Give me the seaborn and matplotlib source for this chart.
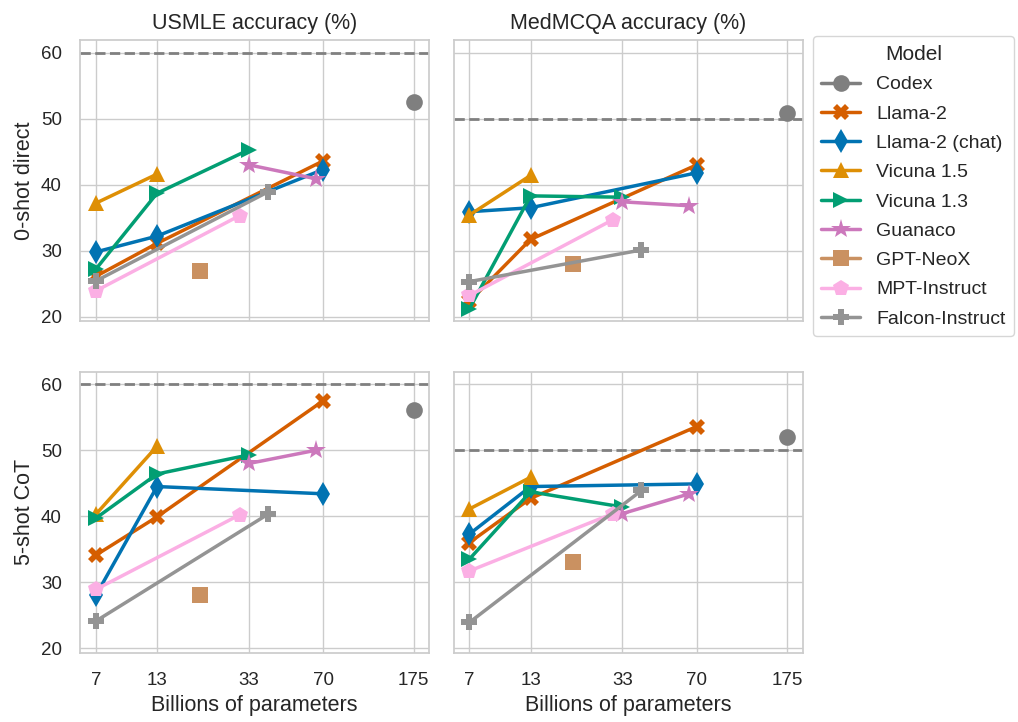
import matplotlib
matplotlib.use("Agg")
import matplotlib.pyplot as plt
from matplotlib.lines import Line2D
from matplotlib.ticker import NullLocator
import seaborn as sns
import pandas as pd

models = ["Codex", "Llama-2", "Llama-2 (chat)", "Vicuna 1.5", "Vicuna 1.3",
          "Guanaco", "GPT-NeoX", "MPT-Instruct", "Falcon-Instruct"]

# billions of parameters for each model size evaluated
sizes = {
    "Codex": [175],
    "Llama-2": [7, 13, 70],
    "Llama-2 (chat)": [7, 13, 70],
    "Vicuna 1.5": [7, 13],
    "Vicuna 1.3": [7, 13, 33],
    "Guanaco": [33, 65],
    "GPT-NeoX": [20],
    "MPT-Instruct": [7, 30],
    "Falcon-Instruct": [7, 40],
}

usmle_0shot = {
    "Codex": [52.5],
    "Llama-2": [26.1, 31.1, 43.6],
    "Llama-2 (chat)": [29.8, 32.2, 42.3],
    "Vicuna 1.5": [37.2, 41.6],
    "Vicuna 1.3": [27.2, 38.7, 45.3],
    "Guanaco": [43.0, 40.9],
    "GPT-NeoX": [26.9],
    "MPT-Instruct": [23.9, 35.3],
    "Falcon-Instruct": [25.4, 38.9],
}
medmcqa_0shot = {
    "Codex": [50.9],
    "Llama-2": [22.3, 31.7, 43.0],
    "Llama-2 (chat)": [35.9, 36.5, 41.8],
    "Vicuna 1.5": [35.4, 41.4],
    "Vicuna 1.3": [21.2, 38.3, 38.1],
    "Guanaco": [37.4, 36.8],
    "GPT-NeoX": [27.9],
    "MPT-Instruct": [23.2, 34.7],
    "Falcon-Instruct": [25.3, 30.1],
}
usmle_cot = {
    "Codex": [56.1],
    "Llama-2": [34.1, 39.9, 57.5],
    "Llama-2 (chat)": [28.0, 44.5, 43.4],
    "Vicuna 1.5": [40.3, 50.6],
    "Vicuna 1.3": [39.7, 46.4, 49.3],
    "Guanaco": [48.0, 50.0],
    "GPT-NeoX": [28.0],
    "MPT-Instruct": [28.9, 40.2],
    "Falcon-Instruct": [24.1, 40.3],
}
medmcqa_cot = {
    "Codex": [52.0],
    "Llama-2": [36.0, 42.7, 53.6],
    "Llama-2 (chat)": [37.3, 44.5, 44.9],
    "Vicuna 1.5": [41.1, 45.9],
    "Vicuna 1.3": [33.5, 43.7, 41.4],
    "Guanaco": [40.4, 43.4],
    "GPT-NeoX": [33.0],
    "MPT-Instruct": [31.7, 40.4],
    "Falcon-Instruct": [23.9, 43.9],
}

# passing score reference lines
thresholds = {"USMLE": 60, "MedMCQA": 50}
x_ticks = [7, 13, 33, 70, 175]

colors = ["#7f7f7f", "#d55e00", "#0173b2", "#de8f05", "#029e73",
          "#cc78bc", "#ca9161", "#fbafe4", "#949494"]
marker_list = ["o", "X", "d", "^", ">", "*", "s", "p", "P"]
palette = dict(zip(models, colors))
markers = dict(zip(models, marker_list))

# long table for seaborn
rows = []
panels = [("0-shot direct", "USMLE", usmle_0shot),
          ("0-shot direct", "MedMCQA", medmcqa_0shot),
          ("5-shot CoT", "USMLE", usmle_cot),
          ("5-shot CoT", "MedMCQA", medmcqa_cot)]
for setting, dataset, vals in panels:
    for m in models:
        for s, v in zip(sizes[m], vals[m]):
            rows.append({"setting": setting, "dataset": dataset, "Model": m,
                         "params": s, "acc": v})
df = pd.DataFrame(rows)

sns.set_theme(style="whitegrid")
plt.rcParams['font.family'] = ['Liberation Sans', 'DejaVu Sans']

g = sns.relplot(data=df, x="params", y="acc", hue="Model", style="Model",
                hue_order=models, style_order=models, palette=palette,
                markers=markers, dashes=False, row="setting", col="dataset",
                row_order=["0-shot direct", "5-shot CoT"],
                col_order=["USMLE", "MedMCQA"], kind="line", legend=False,
                linewidth=2.5, markersize=12, markeredgewidth=0,
                facet_kws={"despine": False})

g.figure.set_size_inches(10.18, 7.22)
g.figure.subplots_adjust(left=0.0786, right=0.7888, top=0.9446, bottom=0.0956,
                         wspace=0.069, hspace=0.178)

for i in range(2):
    for j in range(2):
        ax = g.axes[i, j]
        dataset = ["USMLE", "MedMCQA"][j]
        ax.axhline(thresholds[dataset], color="gray", linestyle="--", linewidth=2, zorder=1)
        # star markers look small next to the others
        for ln in ax.get_lines():
            if ln.get_marker() == "*":
                ln.set_markersize(15)
        ax.set_xscale("log")
        ax.set_xticks(x_ticks)
        ax.set_xticklabels([str(t) for t in x_ticks])
        ax.xaxis.set_minor_locator(NullLocator())
        ax.set_yticks([20, 30, 40, 50, 60])
        ax.tick_params(labelsize=13.5)
        ax.tick_params(axis="y", pad=7)
        ax.tick_params(axis="x", pad=8)
        ax.set_title("")
        ax.set_xlabel("Billions of parameters" if i == 1 else "", fontsize=15.5)
        ax.set_ylabel(["0-shot direct", "5-shot CoT"][i] if j == 0 else "", fontsize=15.5)
        for sp in ax.spines.values():
            sp.set_linewidth(1.25)
            sp.set_color("#cccccc")

g.axes[0, 0].set_title("USMLE accuracy (%)", fontsize=15.5, pad=8)
g.axes[0, 1].set_title("MedMCQA accuracy (%)", fontsize=15.5, pad=8)

handles = [Line2D([], [], color=palette[m], marker=markers[m], linewidth=2.5,
                  markersize=15 if markers[m] == "*" else 12, markeredgewidth=0)
           for m in models]
g.figure.legend(handles, models, title="Model", loc="upper left",
                bbox_to_anchor=(0.7945, 0.955), frameon=True, fontsize=14,
                title_fontsize=15, handlelength=2.0, labelspacing=0.6,
                borderpad=0.45, handletextpad=0.8, borderaxespad=0.2)

g.figure.savefig("out.png", dpi=100)
